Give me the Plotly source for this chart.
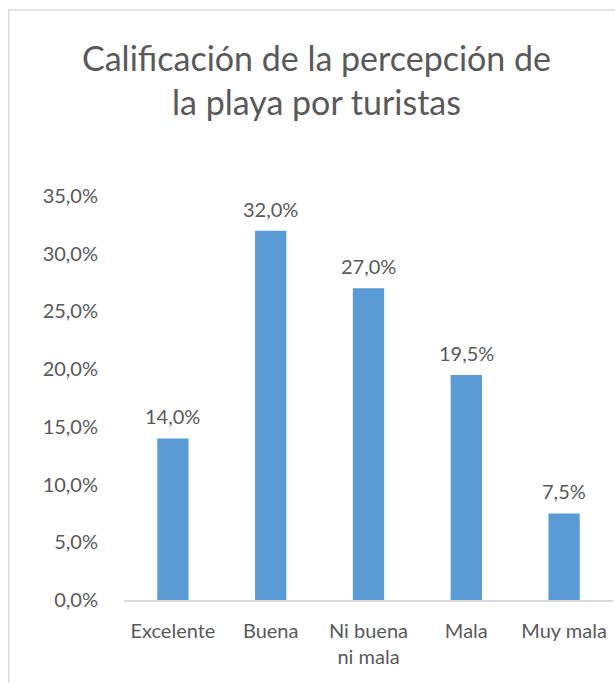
import plotly.graph_objects as go

categories = ["Excelente", "Buena", "Ni buena<br>ni mala", "Mala", "Muy mala"]
values = [14.0, 32.0, 27.0, 19.5, 7.5]
y_ticks = [0, 5, 10, 15, 20, 25, 30, 35]
y_tick_labels = ["0,0%", "5,0%", "10,0%", "15,0%", "20,0%", "25,0%", "30,0%", "35,0%"]
title_text = "Calificación de la percepción de<br>la playa por turistas"

FONT = "Lato, Calibri, sans-serif"
GREY = "#595959"
FS = 20

fig = go.Figure(go.Bar(
    x=categories, y=values,
    marker=dict(color="#5b9bd5", line=dict(width=0)),
    hoverinfo="skip",
))

L, R, T, B = 123.5, 1.5, 196, 83
W, H = 615, 683
pw = W - L - R
ph = H - T - B

annotations = [dict(
    text=title_text, xref="paper", yref="paper",
    x=(316 - L) / pw, y=(H - B - 80) / ph, xanchor="center", yanchor="middle",
    showarrow=False, font=dict(size=34, color=GREY, family=FONT),
)]
for c, v in zip(categories, values):
    annotations.append(dict(
        x=c, y=v, xref="x", yref="y", text=f"{v:.1f}%".replace(".", ","),
        showarrow=False, yanchor="bottom", xanchor="center", yshift=8,
        font=dict(size=FS, color=GREY, family=FONT),
    ))

fig.update_layout(
    width=W, height=H,
    margin=dict(l=L, r=R, t=T, b=B, pad=0),
    paper_bgcolor="white", plot_bgcolor="white",
    separators=",.",
    showlegend=False,
    bargap=0.68,
    font=dict(family=FONT, color=GREY, size=FS),
    xaxis=dict(showgrid=False, showline=True, linecolor="#d9d9d9", linewidth=1.5,
               ticks="", tickfont=dict(size=FS, color=GREY), ticklabelstandoff=12),
    yaxis=dict(range=[0, 35], tickvals=y_ticks, ticktext=y_tick_labels,
               showgrid=False, zeroline=False, showline=False, ticks="",
               tickfont=dict(size=FS, color=GREY), ticklabelstandoff=25),
    annotations=annotations,
    shapes=[dict(
        type="rect", xref="paper", yref="paper",
        x0=(8 - L) / pw, x1=1.2, y0=-0.5, y1=(H - B - 10) / ph,
        line=dict(color="#d9d9d9", width=1.5), fillcolor="rgba(0,0,0,0)", layer="below",
    )],
)

fig.write_html("out.html", post_script="document.body.style.margin='0';",
               config={"displayModeBar": False})
